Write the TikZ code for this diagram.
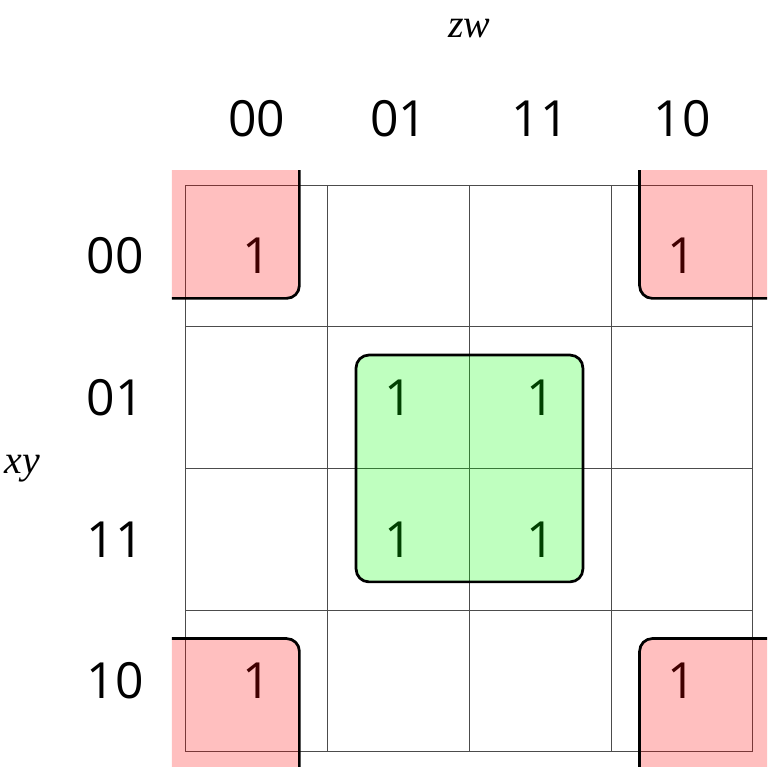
\documentclass[tikz,border=0pt]{standalone}
\usepackage{fontspec}
\setmainfont{Open Sans}
\newfontfamily\varfont{Liberation Serif}
\begin{document}
\begin{tikzpicture}[x=1cm, y=1cm, line join=round,
    cell/.style={font=\fontsize{10}{12}\selectfont},
    var/.style={font=\fontsize{8}{10}\selectfont\varfont\itshape},
    loop/.style={draw=black, line width=0.55pt, fill opacity=0.25, rounded corners=0.09cm}]
  \useasboundingbox (-1.312,-0.106) rectangle (4.106,5.305);
  % grid
  \draw[black!70, line width=0.2pt] (0,0) grid (4,4);
  % headings
  \node[var] (zw) at (2,5.1) {zw};
  \node[var] (xy) at (-1.155,2) {xy};
  \node[cell] (c0) at (0.5,4.47) {00};
  \node[cell] (c1) at (1.5,4.47) {01};
  \node[cell] (c2) at (2.5,4.47) {11};
  \node[cell] (c3) at (3.5,4.47) {10};
  \node[cell] (r0) at (-0.5,3.5) {00};
  \node[cell] (r1) at (-0.5,2.5) {01};
  \node[cell] (r2) at (-0.5,1.5) {11};
  \node[cell] (r3) at (-0.5,0.5) {10};
  % ones
  \node[cell] (m0) at (0.5,3.5) {1};
  \node[cell] (m2) at (3.5,3.5) {1};
  \node[cell] (m5) at (1.5,2.5) {1};
  \node[cell] (m7) at (2.5,2.5) {1};
  \node[cell] (m13) at (1.5,1.5) {1};
  \node[cell] (m15) at (2.5,1.5) {1};
  \node[cell] (m8) at (0.5,0.5) {1};
  \node[cell] (m10) at (3.5,0.5) {1};
  % groups
  \draw[loop, fill=green] (1.2,1.2) rectangle (2.8,2.8);
  \begin{scope}
    \clip (-0.1,-0.1) rectangle (4.1,4.1);
    \draw[loop, fill=red] (-0.8,3.2) rectangle (0.8,4.8);
    \draw[loop, fill=red] (3.2,3.2) rectangle (4.8,4.8);
    \draw[loop, fill=red] (-0.8,-0.8) rectangle (0.8,0.8);
    \draw[loop, fill=red] (3.2,-0.8) rectangle (4.8,0.8);
  \end{scope}
\end{tikzpicture}
\end{document}
